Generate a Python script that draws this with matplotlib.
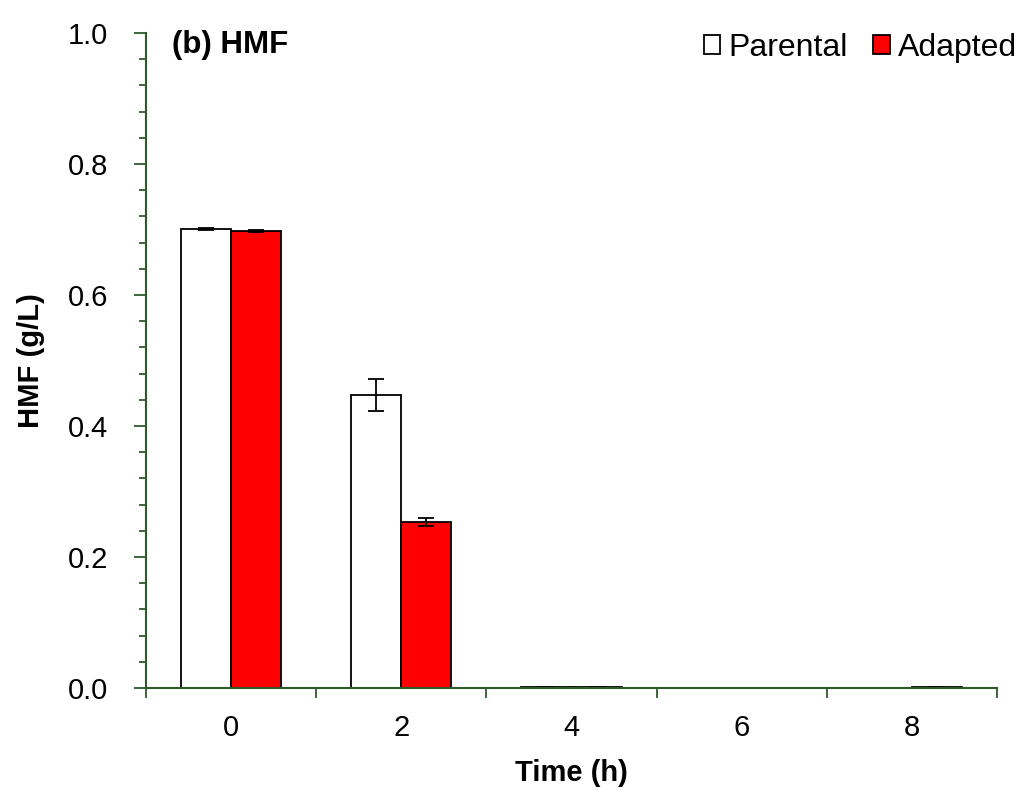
import numpy as np
import matplotlib
matplotlib.use("Agg")
import matplotlib.pyplot as plt
from matplotlib.ticker import MultipleLocator, FixedLocator, NullFormatter, FormatStrFormatter

plt.rcParams['font.family'] = ['Liberation Sans', 'DejaVu Sans']

# ----------------------------
# Data
# ----------------------------
times = ['0', '2', '4', '6', '8']
parental = [0.701, 0.447, 0.002, 0.0, 0.0]
parental_err = [0.002, 0.024, 0.0, 0.0, 0.0]
adapted = [0.698, 0.253, 0.002, 0.0, 0.002]
adapted_err = [0.002, 0.006, 0.0, 0.0, 0.0]

AXIS_COLOR = '#2e5a2a'
FS = 21

fig = plt.figure(figsize=(10.19, 7.90), dpi=100)
ax = fig.add_axes([146 / 1019, 1 - 688 / 790, 851 / 1019, 655 / 790])

x = np.arange(len(times))
w = 0.294
ax.bar(x - w / 2, parental, w, color='white', edgecolor='black', linewidth=1.3,
       yerr=parental_err, capsize=6, error_kw=dict(ecolor='black', elinewidth=1.3, capthick=1.3),
       label='Parental', zorder=2)
ax.bar(x + w / 2, adapted, w, color='#ff0000', edgecolor='black', linewidth=1.3,
       yerr=adapted_err, capsize=6, error_kw=dict(ecolor='black', elinewidth=1.3, capthick=1.3),
       label='Adapted', zorder=2)

ax.set_xlim(-0.5, len(times) - 0.5)
ax.set_ylim(0, 1.0)

# x ticks: labels at centres, tick marks at category boundaries
ax.set_xticks(x)
ax.set_xticklabels(times)
ax.xaxis.set_minor_locator(FixedLocator(np.arange(-0.5, len(times), 1.0)))
ax.xaxis.set_minor_formatter(NullFormatter())
ax.tick_params(axis='x', which='major', length=0, pad=19, labelsize=FS)
ax.tick_params(axis='x', which='minor', length=7, width=1.3, color=AXIS_COLOR, direction='out')

ax.yaxis.set_major_locator(MultipleLocator(0.2))
ax.yaxis.set_minor_locator(MultipleLocator(0.04))
ax.yaxis.set_major_formatter(FormatStrFormatter('%.1f'))
ax.tick_params(axis='y', which='major', length=9, width=1.3, color=AXIS_COLOR, labelsize=FS, pad=18)
ax.tick_params(axis='y', which='minor', length=5, width=1.3, color=AXIS_COLOR)

for side in ['top', 'right']:
    ax.spines[side].set_visible(False)
for side in ['left', 'bottom']:
    ax.spines[side].set_color(AXIS_COLOR)
    ax.spines[side].set_linewidth(1.5)

ax.set_xlabel('Time (h)', fontsize=FS, fontweight='bold', labelpad=12)
ax.set_ylabel('HMF (g/L)', fontsize=FS, fontweight='bold', labelpad=17)

ax.text(26 / 851, 1.005, '(b) HMF', transform=ax.transAxes, fontsize=22.5,
        fontweight='bold', va='top', ha='left')

fig.legend(loc='center right', bbox_to_anchor=(1017 / 1019, 1 - 48 / 790), ncol=2, frameon=False,
           fontsize=23, handlelength=0.52, handleheight=0.52, handletextpad=0.25,
           columnspacing=0.8, borderpad=0, borderaxespad=0)

plt.savefig('out.png', dpi=100)
